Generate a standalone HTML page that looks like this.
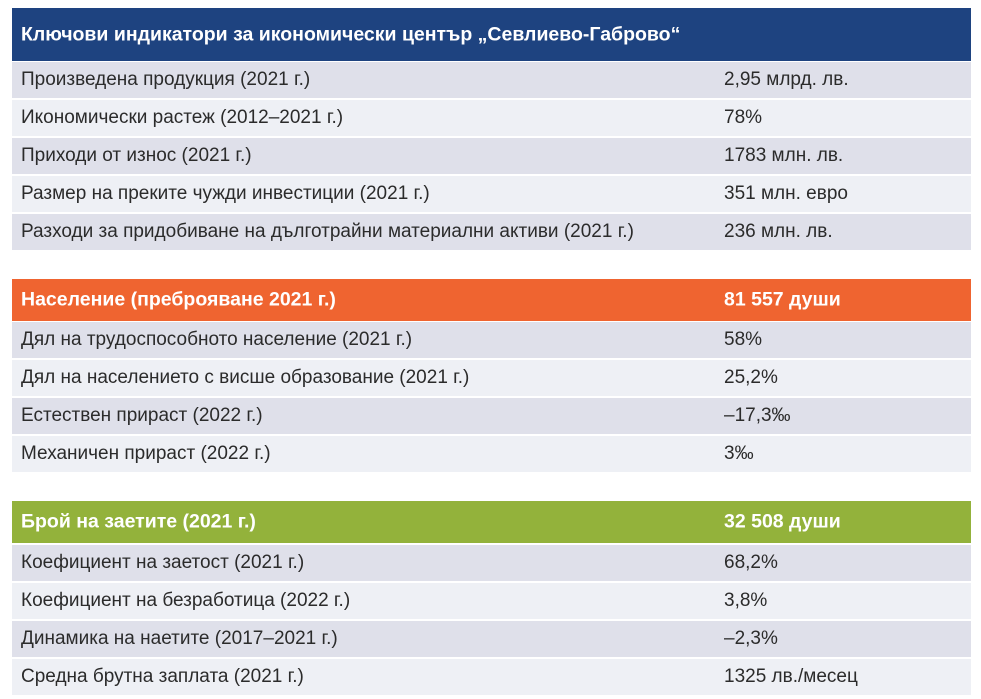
<!DOCTYPE html>
<html><head><meta charset="utf-8"><style>
body{margin:0;width:981px;height:699px;background:#fff;position:relative;overflow:hidden;font-family:"Liberation Sans","DejaVu Sans",sans-serif;}
.r{position:absolute;left:12px;width:959px;height:36px;color:#2b2b2b;font-size:19px;}
.r span{position:absolute;top:50%;transform:translateY(-50%);white-space:nowrap;}
.a{left:9px}.b{left:712px}
.g{background:#dfe0ea}.l{background:#eef0f5}
.h{color:#fff;font-weight:bold;font-size:19.5px;}
</style></head><body>
<div class="r h" style="top:8px;height:53px;background:#1e4380"><span class="a">Ключови индикатори за икономически център „Севлиево-Габрово“</span></div>
<div class="r g" style="top:62px"><span class="a">Произведена продукция (2021 г.)</span><span class="b">2,95 млрд. лв.</span></div>
<div class="r l" style="top:100px"><span class="a">Икономически растеж (2012–2021 г.)</span><span class="b">78%</span></div>
<div class="r g" style="top:138px"><span class="a">Приходи от износ (2021 г.)</span><span class="b">1783 млн. лв.</span></div>
<div class="r l" style="top:176px"><span class="a">Размер на преките чужди инвестиции (2021 г.)</span><span class="b">351 млн. евро</span></div>
<div class="r g" style="top:214px"><span class="a">Разходи за придобиване на дълготрайни материални активи (2021 г.)</span><span class="b">236 млн. лв.</span></div>

<div class="r h" style="top:279px;height:42px;background:#ef6430"><span class="a">Население (преброяване 2021 г.)</span><span class="b">81 557 души</span></div>
<div class="r g" style="top:322px"><span class="a">Дял на трудоспособното население (2021 г.)</span><span class="b">58%</span></div>
<div class="r l" style="top:360px"><span class="a">Дял на населението с висше образование (2021 г.)</span><span class="b">25,2%</span></div>
<div class="r g" style="top:398px"><span class="a">Естествен прираст (2022 г.)</span><span class="b">–17,3‰</span></div>
<div class="r l" style="top:436px"><span class="a">Механичен прираст (2022 г.)</span><span class="b">3‰</span></div>

<div class="r h" style="top:501px;height:42px;background:#93b23b"><span class="a">Брой на заетите (2021 г.)</span><span class="b">32 508 души</span></div>
<div class="r g" style="top:545px"><span class="a">Коефициент на заетост (2021 г.)</span><span class="b">68,2%</span></div>
<div class="r l" style="top:583px"><span class="a">Коефициент на безработица (2022 г.)</span><span class="b">3,8%</span></div>
<div class="r g" style="top:621px"><span class="a">Динамика на наетите (2017–2021 г.)</span><span class="b">–2,3%</span></div>
<div class="r l" style="top:659px"><span class="a">Средна брутна заплата (2021 г.)</span><span class="b">1325 лв./месец</span></div>
</body></html>
